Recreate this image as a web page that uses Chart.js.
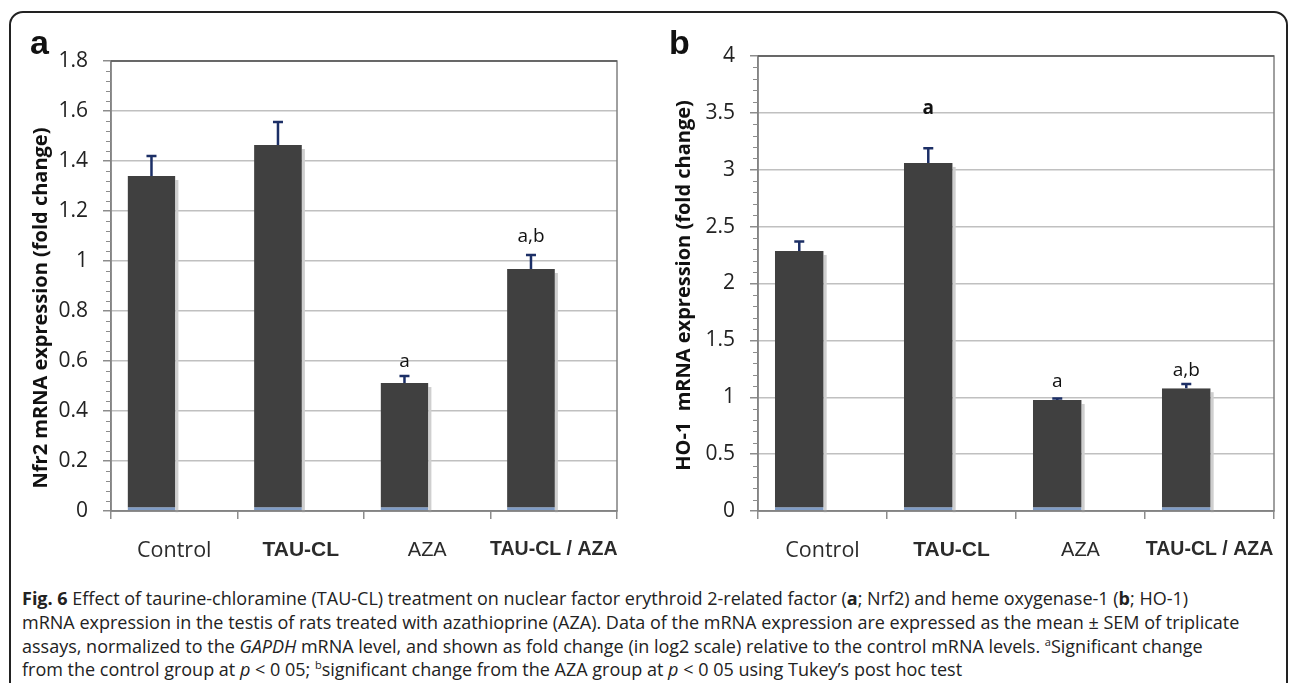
<!DOCTYPE html>
<html>
<head>
<meta charset="utf-8">
<script src="https://cdn.jsdelivr.net/npm/chart.js@4"></script>
<style>
  html, body { margin: 0; padding: 0; background: #fff; }
  body { width: 1295px; height: 683px; position: relative; overflow: hidden; }
  .frame {
    position: absolute; left: 9px; top: 11px; width: 1279px; height: 700px;
    border: 2px solid #222; border-radius: 14px; box-sizing: border-box;
  }
  canvas { position: absolute; top: 0; }
  .letter {
    position: absolute; font: bold 34px "Liberation Sans", Arial, sans-serif; color: #111;
  }
  .caption {
    position: absolute; left: 22px; top: 587px; white-space: nowrap;
    font: 18px "Open Sans", sans-serif; line-height: 23.8px; color: #222;
    letter-spacing: 0px;
  }
  .caption sup { font-size: 11px; line-height: 0; }
</style>
</head>
<body>
<div class="frame"></div>
<canvas id="chartA" width="645" height="580" style="left:0;width:645px;height:580px"></canvas>
<canvas id="chartB" width="650" height="580" style="left:645px;width:650px;height:580px"></canvas>
<div class="letter" style="left:30px;top:23px">a</div>
<div class="letter" style="left:669px;top:23px">b</div>
<div class="caption">
<b>Fig. 6</b> Effect of taurine-chloramine (TAU-CL) treatment on nuclear factor erythroid 2-related factor (<b>a</b>; Nrf2) and heme oxygenase-1 (<b>b</b>; HO-1)<br>
mRNA expression in the testis of rats treated with azathioprine (AZA). Data of the mRNA expression are expressed as the mean ± SEM of triplicate<br>
assays, normalized to the <i>GAPDH</i> mRNA level, and shown as fold change (in log2 scale) relative to the control mRNA levels. <sup>a</sup>Significant change<br>
from the control group at <i>p</i> &lt; 0 05; <sup>b</sup>significant change from the AZA group at <i>p</i> &lt; 0 05 using Tukey’s post hoc test
</div>
<script>
const categories = ['Control', 'TAU-CL', 'AZA', 'TAU-CL / AZA'];

const nrf2Mean = [1.34, 1.464, 0.512, 0.968];
const nrf2Sem = [0.08, 0.092, 0.028, 0.056];
const nrf2Marks = ['', '', 'a', 'a,b'];
const nrf2MarkAt = [null, null, 0.596, 1.096];

const ho1Mean = [2.286, 3.06, 0.976, 1.08];
const ho1Sem = [0.084, 0.13, 0.014, 0.036];
const ho1Marks = ['', 'a', 'a', 'a,b'];
const ho1MarkAt = [null, 3.534, 1.134, 1.231];

const nrf2Ticks = { max: 1.8, major: 0.2, minor: 0.04 };
const ho1Ticks = { max: 4, major: 0.5, minor: 0.1 };

// error bars, significance letters, minor ticks, axis title and the plot frame
const extras = {
  id: 'extras',
  beforeDatasetsDraw(chart) {
    // soft shadow right of each bar
    const { ctx } = chart;
    ctx.save();
    ctx.fillStyle = '#cfcfcf';
    chart.getDatasetMeta(0).data.forEach(bar => {
      const half = bar.width / 2;
      ctx.fillRect(bar.x + half, bar.y + 4, 3, bar.base - bar.y - 2);
    });
    ctx.restore();
  },
  afterDatasetsDraw(chart, args, opts) {
    const { ctx, chartArea: a } = chart;
    const y = chart.scales.y;
    const meta = chart.getDatasetMeta(0);

    ctx.save();
    ctx.strokeStyle = '#808080';
    ctx.lineWidth = 1.5;
    ctx.strokeRect(a.left, a.top, a.right - a.left, a.bottom - a.top);
    ctx.strokeStyle = '#5a5a5a';
    ctx.beginPath();
    ctx.moveTo(a.left, a.top); ctx.lineTo(a.right, a.top);
    ctx.stroke();

    // minor ticks
    ctx.strokeStyle = '#8c8c8c';
    ctx.lineWidth = 1;
    const n = Math.round(opts.ticks.max / opts.ticks.minor);
    const per = Math.round(opts.ticks.major / opts.ticks.minor);
    for (let i = 0; i <= n; i++) {
      if (i % per === 0) continue;
      const py = Math.round(y.getPixelForValue(i * opts.ticks.minor)) + 0.5;
      ctx.beginPath();
      ctx.moveTo(a.left - 5, py); ctx.lineTo(a.left, py);
      ctx.stroke();
    }

    // error bars (upper half only)
    ctx.strokeStyle = '#1c2f66';
    ctx.lineWidth = 2.5;
    meta.data.forEach((bar, i) => {
      const top = y.getPixelForValue(opts.mean[i] + opts.sem[i]);
      ctx.beginPath();
      ctx.moveTo(bar.x, bar.y);
      ctx.lineTo(bar.x, top);
      ctx.moveTo(bar.x - 5, top);
      ctx.lineTo(bar.x + 5, top);
      ctx.stroke();
    });

    // letters
    ctx.fillStyle = '#111';
    ctx.textAlign = 'center';
    ctx.textBaseline = 'middle';
    meta.data.forEach((bar, i) => {
      if (!opts.marks[i]) return;
      ctx.font = (opts.boldMark === i ? 'bold ' : '') + '19px "Open Sans"';
      ctx.fillText(opts.marks[i], bar.x, y.getPixelForValue(opts.markAt[i]));
    });

    // y axis title, a little lower than centre in panel a
    ctx.translate(opts.titleX, (a.top + a.bottom) / 2 + opts.titleShift);
    ctx.rotate(-Math.PI / 2);
    ctx.font = 'bold 20px "Open Sans"';
    ctx.fillText(opts.title, 0, 0);
    ctx.restore();
  }
};

function makeChart(id, mean, sem, marks, markAt, tickSet, title, pad, yWidth, boldMark, titleX, titleShift) {
  return new Chart(document.getElementById(id), {
    type: 'bar',
    data: {
      labels: categories,
      datasets: [
        {
          data: mean,
          backgroundColor: '#404040',
          borderColor: '#7f9cc6',
          borderWidth: { top: 0, left: 0, right: 0, bottom: 3 },
          borderSkipped: false,
          categoryPercentage: 0.72,
          barPercentage: 1.05
        },
        {
          // empty second series, it keeps the bars left of centre like the original
          data: categories.map(() => null),
          backgroundColor: 'rgba(0,0,0,0)',
          categoryPercentage: 0.72,
          barPercentage: 1.05
        }
      ]
    },
    options: {
      responsive: false,
      animation: false,
      layout: { padding: pad },
      plugins: {
        legend: { display: false },
        tooltip: { enabled: false },
        extras: { mean, sem, marks, markAt, ticks: tickSet, boldMark, title, titleX, titleShift }
      },
      scales: {
        x: {
          afterFit: s => { s.height = 60; },
          grid: { offset: true, drawOnChartArea: false, color: '#8c8c8c', tickLength: 8, lineWidth: 1.5 },
          border: { color: '#8c8c8c', width: 1.5 },
          ticks: {
            padding: 19,
            maxRotation: 0,
            minRotation: 0,
            autoSkip: false,
            color: '#2b2b2b',
            font: c => {
              if (c.index === 1) return { family: '"Liberation Sans"', size: 21, weight: 'bold' };
              if (c.index === 3) return { family: '"Liberation Sans"', size: 19.5, weight: 'bold' };
              if (c.index === 2) return { family: '"Liberation Sans"', size: 20 };
              return { family: '"Open Sans"', size: 21.5 };
            }
          }
        },
        y: {
          min: 0,
          max: tickSet.max,
          afterFit: s => { s.width = yWidth; },
          grid: { color: '#c0c0c0', lineWidth: 1.5, tickLength: 8, tickColor: '#8c8c8c' },
          border: { color: '#8c8c8c', width: 1.5 },
          ticks: {
            stepSize: tickSet.major,
            padding: 15,
            color: '#222',
            font: { family: '"Open Sans"', size: 21 },
            callback: v => String(+v.toFixed(2))
          }
        }
      }
    },
    plugins: [extras]
  });
}

makeChart('chartA', nrf2Mean, nrf2Sem, nrf2Marks, nrf2MarkAt, nrf2Ticks,
  'Nfr2 mRNA expression (fold change)',
  { left: 27, right: 28, top: 61, bottom: 9 }, 84, -1, 41, 22);

makeChart('chartB', ho1Mean, ho1Sem, ho1Marks, ho1MarkAt, ho1Ticks,
  'HO-1  mRNA expression (fold change)',
  { left: 25, right: 21, top: 56, bottom: 9 }, 88, 1, 39, 2);
</script>
</body>
</html>
